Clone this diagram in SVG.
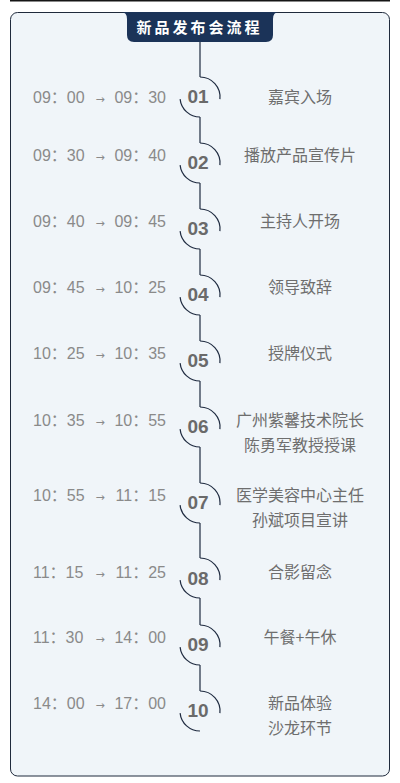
<svg xmlns="http://www.w3.org/2000/svg" width="400" height="783" viewBox="0 0 400 783">
<style>
.time{font-family:"Liberation Sans","Noto Sans CJK SC",sans-serif;font-size:16px;fill:#8a8a8a}
.ar{font-family:"DejaVu Sans",sans-serif;font-size:11px;text-anchor:middle}
.e{text-anchor:end}
.num{font-family:"Liberation Sans",Arial,sans-serif;font-size:19px;font-weight:bold;fill:#6a6a6a;text-anchor:middle}
.lbl{font-family:"Noto Sans CJK SC",sans-serif;font-size:16px;fill:#6e6e6e;text-anchor:middle}
.arc{fill:none;stroke:#1f2b40;stroke-width:1.2}
.ln{fill:none;stroke:#1f2b40;stroke-width:1.2}
</style>
<rect width="400" height="783" fill="#ffffff"/>
<line x1="10" y1="0.75" x2="390" y2="0.75" stroke="#151515" stroke-width="1.5"/>
<rect x="10.5" y="12.5" width="379" height="763.5" rx="7" fill="#f0f5f9" stroke="#1f2a3c" stroke-width="1"/>
<g id="title">
<path d="M121,12 Q127,12 127,19 L127,35 Q127,42 134,42 L266,42 Q273,42 273,35 L273,19 Q273,12 279,12 Z" fill="#1b3358"/>
<text x="199.5" y="32.5" font-family="'Noto Sans CJK SC',sans-serif" font-size="15" font-weight="bold" fill="#ffffff" text-anchor="middle" letter-spacing="3">新品发布会流程</text>
</g>
<g id="connectors">
<path class="ln" d="M200,42 V77 M200,117 V143 M200,183 V209 M200,249 V275 M200,315 V341 M200,381 V407 M200,447 V483 M200,523 V558 M200,598 V625 M200,665 V691"/>
</g>
<g id="n01"><path class="arc" d="M200,77 A20,20 0 0 1 219.9,99.1 M180.1,99.1 A20,20 0 0 0 200,117"/><text class="time" y="102.5"><tspan x="33">09：00</tspan><tspan class="ar" x="100">→</tspan><tspan class="e" x="166">09：30</tspan></text><text class="num" x="198" y="103">01</text><text class="lbl" x="300" y="102.5">嘉宾入场</text></g>
<g id="n02"><path class="arc" d="M200,143 A20,20 0 0 1 219.9,165.1 M180.1,165.1 A20,20 0 0 0 200,183"/><text class="time" y="160.8"><tspan x="33">09：30</tspan><tspan class="ar" x="100">→</tspan><tspan class="e" x="166">09：40</tspan></text><text class="num" x="198" y="169">02</text><text class="lbl" x="300" y="161">播放产品宣传片</text></g>
<g id="n03"><path class="arc" d="M200,209 A20,20 0 0 1 219.9,231.1 M180.1,231.1 A20,20 0 0 0 200,249"/><text class="time" y="226.8"><tspan x="33">09：40</tspan><tspan class="ar" x="100">→</tspan><tspan class="e" x="166">09：45</tspan></text><text class="num" x="198" y="235">03</text><text class="lbl" x="300" y="227">主持人开场</text></g>
<g id="n04"><path class="arc" d="M200,275 A20,20 0 0 1 219.9,297.1 M180.1,297.1 A20,20 0 0 0 200,315"/><text class="time" y="293"><tspan x="33">09：45</tspan><tspan class="ar" x="100">→</tspan><tspan class="e" x="166">10：25</tspan></text><text class="num" x="198" y="301">04</text><text class="lbl" x="300" y="293.3">领导致辞</text></g>
<g id="n05"><path class="arc" d="M200,341 A20,20 0 0 1 219.9,363.1 M180.1,363.1 A20,20 0 0 0 200,381"/><text class="time" y="358.8"><tspan x="33">10：25</tspan><tspan class="ar" x="100">→</tspan><tspan class="e" x="166">10：35</tspan></text><text class="num" x="198" y="367">05</text><text class="lbl" x="300" y="359">授牌仪式</text></g>
<g id="n06"><path class="arc" d="M200,407 A20,20 0 0 1 219.9,429.1 M180.1,429.1 A20,20 0 0 0 200,447"/><text class="time" y="425.8"><tspan x="33">10：35</tspan><tspan class="ar" x="100">→</tspan><tspan class="e" x="166">10：55</tspan></text><text class="num" x="198" y="433">06</text><text class="lbl" x="300" y="426">广州紫馨技术院长</text><text class="lbl" x="300" y="451">陈勇军教授授课</text></g>
<g id="n07"><path class="arc" d="M200,483 A20,20 0 0 1 219.9,505.1 M180.1,505.1 A20,20 0 0 0 200,523"/><text class="time" y="500.8"><tspan x="33">10：55</tspan><tspan class="ar" x="100">→</tspan><tspan class="e" x="166">11：15</tspan></text><text class="num" x="198" y="509">07</text><text class="lbl" x="300" y="501">医学美容中心主任</text><text class="lbl" x="300" y="526">孙斌项目宣讲</text></g>
<g id="n08"><path class="arc" d="M200,558 A20,20 0 0 1 219.9,580.1 M180.1,580.1 A20,20 0 0 0 200,598"/><text class="time" y="577.5"><tspan x="33">11：15</tspan><tspan class="ar" x="100">→</tspan><tspan class="e" x="166">11：25</tspan></text><text class="num" x="198" y="584.5">08</text><text class="lbl" x="300" y="577.7">合影留念</text></g>
<g id="n09"><path class="arc" d="M200,625 A20,20 0 0 1 219.9,647.1 M180.1,647.1 A20,20 0 0 0 200,665"/><text class="time" y="643"><tspan x="33">11：30</tspan><tspan class="ar" x="100">→</tspan><tspan class="e" x="166">14：00</tspan></text><text class="num" x="198" y="651">09</text><text class="lbl" x="300" y="643.3">午餐+午休</text></g>
<g id="n10"><path class="arc" d="M200,691 A20,20 0 0 1 219.9,713.1 M180.1,713.1 A20,20 0 0 0 200,731"/><text class="time" y="709"><tspan x="33">14：00</tspan><tspan class="ar" x="100">→</tspan><tspan class="e" x="166">17：00</tspan></text><text class="num" x="198" y="717">10</text><text class="lbl" x="300" y="709.3">新品体验</text><text class="lbl" x="300" y="734.3">沙龙环节</text></g>
</svg>
